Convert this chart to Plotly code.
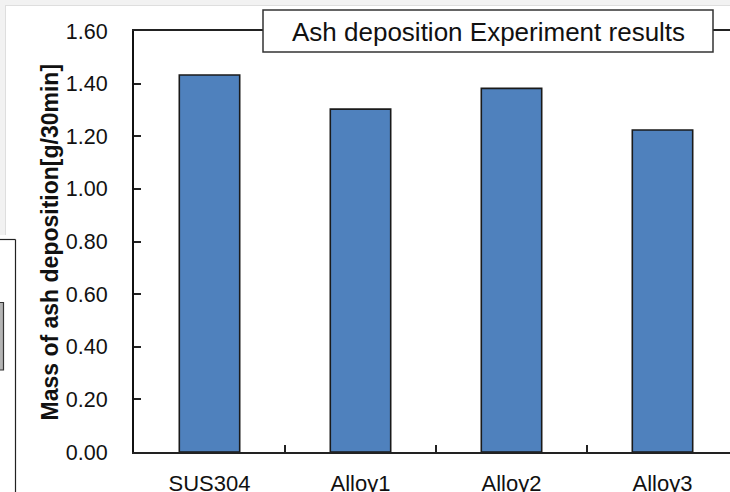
import plotly.graph_objects as go

categories = ["SUS304", "Alloy1", "Alloy2", "Alloy3"]
mass_values = [1.433, 1.303, 1.382, 1.224]
y_ticks = [0.0, 0.2, 0.4, 0.6, 0.8, 1.0, 1.2, 1.4, 1.6]
title_text = "Ash deposition Experiment results"
y_title = "Mass of ash deposition[g/30min]"

W, H = 730, 492
L, R, T, B = 134, 0, 31, 40
PW, PH = W - L - R, H - T - B

def X(px):
    return (px - L) / PW

def Y(py):
    return (H - B - py) / PH

FONT = "Arial, Liberation Sans, sans-serif"

fig = go.Figure()
fig.add_trace(go.Bar(
    x=categories, y=mass_values, width=0.4,
    marker=dict(color="#4f81bd", line=dict(color="#1a1a1a", width=1.6)),
    hoverinfo="skip",
))

shapes = [
    # screenshot frame artifacts
    dict(type="rect", xref="paper", yref="paper", x0=X(-5), x1=X(740), y0=Y(-5), y1=Y(5),
         fillcolor="#f2f2f2", line=dict(width=0), layer="below"),
    dict(type="rect", xref="paper", yref="paper", x0=X(-5), x1=X(5), y0=Y(-5), y1=Y(235),
         fillcolor="#f2f2f2", line=dict(width=0), layer="below"),
    dict(type="line", xref="paper", yref="paper", x0=X(5), x1=X(740), y0=Y(5.5), y1=Y(5.5),
         line=dict(color="#dedede", width=1), layer="below"),
    dict(type="line", xref="paper", yref="paper", x0=X(5.5), x1=X(5.5), y0=Y(5.5), y1=Y(235),
         line=dict(color="#dedede", width=1), layer="below"),
    dict(type="line", xref="paper", yref="paper", x0=X(-2), x1=X(15.5), y0=Y(239.5), y1=Y(239.5),
         line=dict(color="#222222", width=1.2)),
    dict(type="line", xref="paper", yref="paper", x0=X(15.5), x1=X(15.5), y0=Y(239.5), y1=Y(500),
         line=dict(color="#222222", width=1.2)),
    dict(type="rect", xref="paper", yref="paper", x0=X(-3), x1=X(3.5), y0=Y(370), y1=Y(302.5),
         fillcolor="#b4b4b4", line=dict(color="#333333", width=1.2)),
    # title box
    dict(type="rect", xref="paper", yref="paper", x0=X(263), x1=X(713), y0=Y(52), y1=Y(10),
         fillcolor="white", line=dict(color="#333333", width=1.5), layer="above"),
]

fig.update_layout(
    width=W, height=H,
    margin=dict(l=L, r=R, t=T, b=B, pad=0, autoexpand=False),
    paper_bgcolor="white", plot_bgcolor="white",
    showlegend=False,
    font=dict(family=FONT, color="#111111"),
    shapes=shapes,
    annotations=[
        dict(text=title_text, xref="paper", yref="paper", x=X(488), y=Y(31.5),
             xanchor="center", yanchor="middle", showarrow=False,
             font=dict(family=FONT, size=26, color="#111111")),
        dict(text="<b>" + y_title + "</b>", xref="paper", yref="paper", x=X(49), y=Y(242.5),
             xanchor="center", yanchor="middle", textangle=-90, showarrow=False,
             font=dict(family=FONT, size=23, color="#111111")),
    ],
    xaxis=dict(
        type="category", range=[-0.5, -0.5 + PW / 151.0], automargin=False,
        showline=True, linecolor="#222222", linewidth=2, mirror=True,
        ticks="inside", ticklen=7, tickcolor="#222222", tickwidth=1.5,
        tickson="boundaries", showgrid=False, zeroline=False,
        tickfont=dict(family=FONT, size=22, color="#111111"),
        ticklabelstandoff=11,
    ),
    yaxis=dict(
        range=[0, 1.6], tickvals=y_ticks, tickformat=".2f", automargin=False,
        showline=True, linecolor="#111111", linewidth=2, mirror=False,
        ticks="inside", ticklen=7, tickcolor="#222222", tickwidth=1.5,
        showgrid=False, zeroline=False,
        tickfont=dict(family=FONT, size=21.5, color="#111111"),
        ticklabelstandoff=20,
    ),
)

fig.write_html(
    "out.html",
    config={"displayModeBar": False},
    post_script="document.body.style.margin='0';document.body.style.overflow='hidden';"
                "document.documentElement.style.overflow='hidden';",
)
